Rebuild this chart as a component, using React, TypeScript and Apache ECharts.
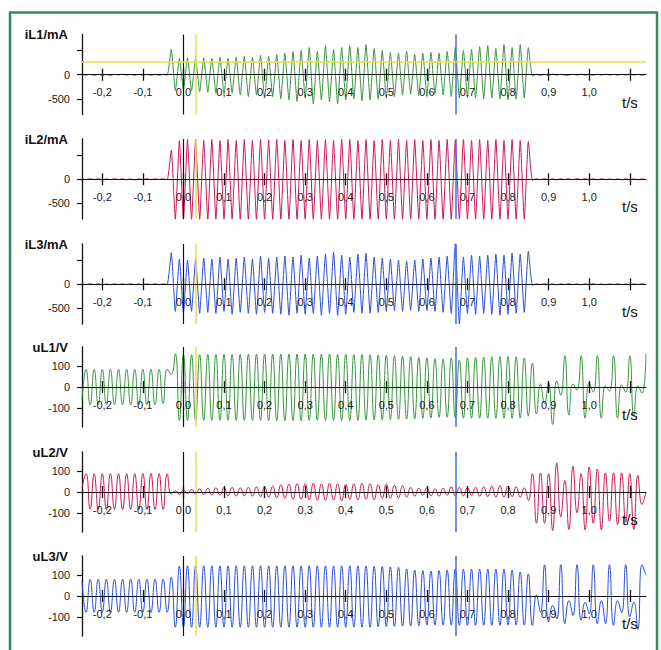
import React, { useEffect, useRef } from "react";
import * as echarts from "echarts";

// time base of the sampled turning points (s)
const T_START = -0.25;
const T_STEP = 0.01;
const X_MIN = -0.25;
const X_MAX = 1.14;

const xTickValues = [-0.2, -0.1, 0, 0.1, 0.2, 0.3, 0.4, 0.5, 0.6, 0.7, 0.8, 0.9, 1.0, 1.1];
const xLabelValues = [-0.2, -0.1, 0, 0.1, 0.2, 0.3, 0.4, 0.5, 0.6, 0.7, 0.8, 0.9, 1.0];

const currentTicks = [-500, 0, 500];
const currentLabels = [-500, 0];
const voltageTicks = [-100, 0, 100];
const voltageLabels = [-100, 0, 100];

const currentRange = [-820, 830];
const voltageRange = [-192, 192];

const cursorZero = 0;
const cursorYellow = 0.03;
const cursorBlue = 0.674;
const iL1Level = 258;

const iL1 = [
  5, -10, 8, -15, 10, -12, 5, -18, 10, -8,
  12, -10, 6, -15, 10, -12, 8, -10, 5, -12,
  8, -10, 520, -330, 340, -320, 350, -330, 340, -350,
  350, -360, 340, -380, 360, -400, 340, -380, 360, -420,
  380, -450, 360, -420, 400, -480, 380, -450, 420, -500,
  450, -520, 480, -550, 500, -480, 560, -600, 480, -520,
  600, -560, 520, -600, 560, -520, 600, -500, 560, -540,
  620, -520, 540, -500, 500, -480, 460, -450, 450, -420,
  480, -400, 420, -430, 440, -420, 460, -400, 450, -420,
  480, -450, 560, -480, 500, -460, 520, -480, 580, -500,
  600, -480, 540, -500, 620, -520, 560, -500, 620, -480,
  560, -30, 10, -15, 8, -10, 12, -8, 10, -12,
  -10, 10, -8, 12, -10, 8, -12, 10, -8, 12,
  -10, 8, -12, 10, -8, 12, -10, 8, -12, 5,
];

const iL2 = [
  5, -8, 10, -5, 8, -12, 6, -8, 10, -6,
  8, -10, 5, -12, 8, -6, 10, -8, 6, -5,
  8, -10, 600, -830, 800, -830, 820, -830, 820, -830,
  800, -830, 820, -830, 800, -830, 820, -830, 800, -830,
  820, -830, 800, -830, 820, -830, 810, -830, 820, -830,
  800, -830, 820, -830, 800, -830, 820, -830, 800, -830,
  820, -830, 800, -830, 820, -830, 820, -830, 800, -830,
  820, -830, 800, -830, 820, -830, 800, -830, 820, -830,
  800, -830, 820, -830, 800, -830, 820, -830, 800, -830,
  820, -830, 800, -830, 820, -830, 800, -830, 820, -830,
  800, -830, 820, -830, 800, -830, 820, -830, 800, -830,
  780, -20, 10, -8, 12, -10, 8, -12, 10, -6,
  8, -10, 12, -8, 10, -6, 8, -12, 10, -8,
  6, -10, 8, -12, 10, -8, 6, -10, 8, -5,
];

const iL3 = [
  6, -8, 10, -6, 8, -10, 5, -8, 10, -6,
  8, -5, 10, -8, 6, -10, 8, -6, 10, -8,
  8, -5, 650, -560, 520, -580, 500, -560, 520, -600,
  540, -580, 520, -600, 560, -560, 520, -620, 540, -580,
  560, -600, 520, -620, 580, -580, 540, -600, 560, -620,
  580, -640, 560, -600, 600, -620, 540, -600, 580, -640,
  620, -600, 660, -640, 600, -620, 560, -580, 620, -600,
  640, -600, 560, -580, 540, -560, 520, -540, 500, -560,
  480, -540, 500, -560, 520, -540, 540, -560, 560, -580,
  580, -600, 840, -820, 560, -600, 600, -620, 580, -600,
  600, -620, 620, -640, 600, -620, 640, -600, 620, -580,
  680, -20, 8, -6, 10, -8, 5, -10, 8, -6,
  10, -8, 6, -10, 8, -6, 10, -8, 6, -10,
  8, -6, 10, -8, 6, -10, 8, -6, 10, -5,
];

const uL1 = [
  -60, 85, -86, 85, -86, 85, -86, 85, -86, 85,
  -86, 85, -86, 85, -86, 85, -86, 85, -86, 85,
  -80, 86, 60, 160, -160, 156, -160, 155, -160, 156,
  -160, 156, -160, 156, -160, 157, -160, 156, -160, 157,
  -160, 157, -160, 158, -160, 158, -161, 158, -161, 158,
  -161, 158, -161, 158, -161, 158, -160, 158, -160, 158,
  -160, 158, -160, 157, -160, 157, -160, 156, -160, 156,
  -158, 155, -158, 154, -157, 153, -156, 150, -155, 148,
  -154, 146, -152, 142, -150, 140, -148, 136, -146, 134,
  -145, 140, -148, 130, -150, 140, -150, 142, -150, 144,
  -150, 145, -150, 146, -150, 146, -150, 145, -148, 140,
  -140, 115, -130, 15, -80, 20, -180, 30, -40, 150,
  -135, 15, -15, 150, -150, 20, -25, 150, -150, 5,
  -20, 150, -150, 10, -25, 150, -140, 5, -30, 160,
];

const uL2 = [
  20, 88, -83, 88, -84, 88, -84, 88, -84, 88,
  -84, 88, -84, 88, -84, 88, -84, 88, -84, 88,
  -84, 88, -10, 5, -12, 10, -8, 12, -10, 15,
  -12, 18, -15, 20, -15, 22, -18, 22, -20, 20,
  -18, 22, -20, 25, -22, 25, -25, 28, -28, 35,
  -30, 38, -35, 40, -35, 40, -38, 42, -40, 40,
  -40, 42, -38, 40, -42, 38, -35, 40, -38, 42,
  -35, 40, -38, 35, -30, 38, -30, 32, -28, 30,
  -25, 22, -20, 18, -15, 20, -18, 15, -20, 18,
  -15, 25, -20, 22, -18, 20, -15, 22, -20, 25,
  -22, 28, -25, 30, -25, 28, -22, 25, -25, 20,
  -40, 88, -150, 92, -150, 88, -185, 140, -120, 55,
  -180, 123, -100, 88, -182, 120, -150, 110, -182, 92,
  -140, 92, -156, 92, -145, 88, -180, 80, -60, 0,
];

const uL3 = [
  70, -78, 81, -78, 81, -78, 81, -78, 81, -78,
  81, -78, 81, -78, 81, -78, 81, -78, 81, -78,
  81, -78, 90, -150, 144, -150, 145, -150, 145, -150,
  145, -150, 145, -150, 145, -150, 145, -150, 145, -150,
  145, -150, 145, -150, 145, -150, 145, -150, 145, -150,
  145, -150, 145, -150, 145, -150, 145, -150, 145, -150,
  145, -150, 145, -150, 145, -150, 145, -150, 145, -150,
  145, -150, 143, -148, 142, -147, 140, -146, 138, -145,
  130, -144, 125, -142, 122, -140, 120, -140, 122, -140,
  125, -140, 130, -141, 128, -141, 128, -141, 128, -141,
  128, -141, 128, -141, 128, -140, 125, -140, 115, -140,
  106, -141, 5, -78, 150, -125, -45, -110, 150, -133,
  -22, -94, 150, -117, -30, -87, 150, -133, -22, -133,
  150, -141, -22, -80, 150, -100, -30, -160, 150, 100,
];

const GREEN = "#3a9440";
const CRIMSON = "#cc1a5e";
const BLUE = "#2b4fd3";
const FRAME = "#2f8c5a";
const YELLOW = "#eadc4a";
const CURSOR_BLUE = "#3d72dc";

type Panel = {
  title: string;
  values: number[];
  color: string;
  kind: "current" | "voltage";
  top: number;
};

const panels: Panel[] = [
  { title: "iL1/mA", values: iL1, color: GREEN, kind: "current", top: 34.5 },
  { title: "iL2/mA", values: iL2, color: CRIMSON, kind: "current", top: 139 },
  { title: "iL3/mA", values: iL3, color: BLUE, kind: "current", top: 244 },
  { title: "uL1/V", values: uL1, color: GREEN, kind: "voltage", top: 347 },
  { title: "uL2/V", values: uL2, color: CRIMSON, kind: "voltage", top: 452 },
  { title: "uL3/V", values: uL3, color: BLUE, kind: "voltage", top: 556 },
];

const FONT = "'Liberation Sans', Arial, sans-serif";
const PANEL_H = 80;
const LEFT = 82;
const RIGHT = 15;

function buildOption() {
  const grid: any[] = [];
  const xAxis: any[] = [];
  const yAxis: any[] = [];
  const series: any[] = [];
  const n = panels.length;
  panels.forEach((p, k) => {
    const isCurrent = p.kind === "current";
    const range = isCurrent ? currentRange : voltageRange;
    // data grid k
    grid.push({ left: LEFT, right: RIGHT, top: p.top, height: PANEL_H });
    xAxis.push({
      type: "value",
      gridIndex: k,
      min: X_MIN,
      max: X_MAX,
      show: false,
    });
    yAxis.push({
      type: "value",
      gridIndex: k,
      min: range[0],
      max: range[1],
      axisLine: { show: true, onZero: false, lineStyle: { color: "#111", width: 1.3 } },
      axisTick: {
        show: true,
        customValues: isCurrent ? currentTicks : voltageTicks,
        length: 5,
        lineStyle: { color: "#111", width: 1.2 },
      },
      axisLabel: {
        show: true,
        customValues: isCurrent ? currentLabels : voltageLabels,
        margin: 12,
        fontSize: 11,
        color: "#1a1a1a",
        fontFamily: FONT,
      },
      splitLine: { show: false },
      name: p.title,
      nameLocation: "end",
      nameGap: 0,
      nameTextStyle: {
        fontSize: 13,
        fontWeight: "bold",
        color: "#111",
        fontFamily: FONT,
        align: "right",
        verticalAlign: "middle",
        padding: [0, 14, 0, 0],
      },
    });
    const markData: any[] = [
      { xAxis: cursorZero, lineStyle: { color: "#111", width: 1.2, type: "solid" } },
      { xAxis: cursorYellow, lineStyle: { color: YELLOW, width: 1.5, type: "solid" } },
      { xAxis: cursorBlue, lineStyle: { color: CURSOR_BLUE, width: 1.5, type: "solid" } },
    ];
    if (k === 0) {
      markData.push({ yAxis: iL1Level, lineStyle: { color: YELLOW, width: 1.5, type: "solid" } });
    }
    series.push({
      type: "line",
      xAxisIndex: k,
      yAxisIndex: k,
      data: p.values.map((v, i) => [T_START + i * T_STEP, v]),
      showSymbol: false,
      smooth: isCurrent ? 0.15 : 0.5,
      lineStyle: { color: p.color, width: 1 },
      itemStyle: { color: p.color },
      clip: true,
      z: 2,
      markLine: {
        silent: true,
        symbol: ["none", "none"],
        label: { show: false },
        data: markData,
      },
    });
  });
  // time axes lying on each panel's zero line: grids whose bottom edge is the zero line
  panels.forEach((p, k) => {
    const isCurrent = p.kind === "current";
    const range = isCurrent ? currentRange : voltageRange;
    const zeroOffset = (PANEL_H * range[1]) / (range[1] - range[0]);
    const g = n + k;
    grid.push({ left: LEFT, right: RIGHT, top: p.top, height: zeroOffset });
    yAxis.push({ type: "value", gridIndex: g, min: 0, max: 1, show: false });
    xAxis.push({
      type: "value",
      gridIndex: g,
      position: "bottom",
      offset: 0,
      min: X_MIN,
      max: X_MAX,
      z: 5,
      axisLine: { show: true, onZero: false, lineStyle: { color: "#111", width: 1 } },
      axisTick: { show: true, customValues: xTickValues, length: 6, lineStyle: { color: "#111", width: 1.3 } },
      axisLabel: {
        show: true,
        customValues: xLabelValues,
        margin: 12,
        fontSize: 11,
        color: "#1a1a1a",
        fontFamily: FONT,
        formatter: (v: number) => v.toFixed(1).replace(".", ","),
      },
      splitLine: { show: false },
      name: "t/s",
      nameLocation: "end",
      nameGap: -24,
      nameTextStyle: {
        fontSize: 15,
        color: "#111",
        fontFamily: FONT,
        align: "left",
        verticalAlign: "top",
        padding: [20, 0, 0, 0],
      },
    });
    xAxis.push({
      type: "value",
      gridIndex: g,
      position: "bottom",
      offset: 0,
      min: X_MIN,
      max: X_MAX,
      z: 5,
      axisLine: { show: false, onZero: false },
      axisTick: {
        show: true,
        inside: true,
        customValues: xTickValues,
        length: 6,
        lineStyle: { color: "#111", width: 1.3 },
      },
      axisLabel: { show: false },
      splitLine: { show: false },
    });
  });
  return {
    animation: false,
    backgroundColor: "#ffffff",
    grid,
    xAxis,
    yAxis,
    series,
    graphic: [
      {
        type: "rect",
        shape: { x: 10, y: 12.5, width: 647, height: 650 },
        style: { fill: "none", stroke: FRAME, lineWidth: 2.5 },
        silent: true,
      },
    ],
  };
}

export default function App() {
  const ref = useRef<HTMLDivElement>(null);
  useEffect(() => {
    if (!ref.current) return;
    const chart = echarts.init(ref.current, undefined, { renderer: "svg" });
    chart.setOption(buildOption() as any);
    return () => chart.dispose();
  }, []);
  return (
    <div
      ref={ref}
      style={{ position: "absolute", left: 0, top: 0, width: 661, height: 650, background: "#fff" }}
    />
  );
}
